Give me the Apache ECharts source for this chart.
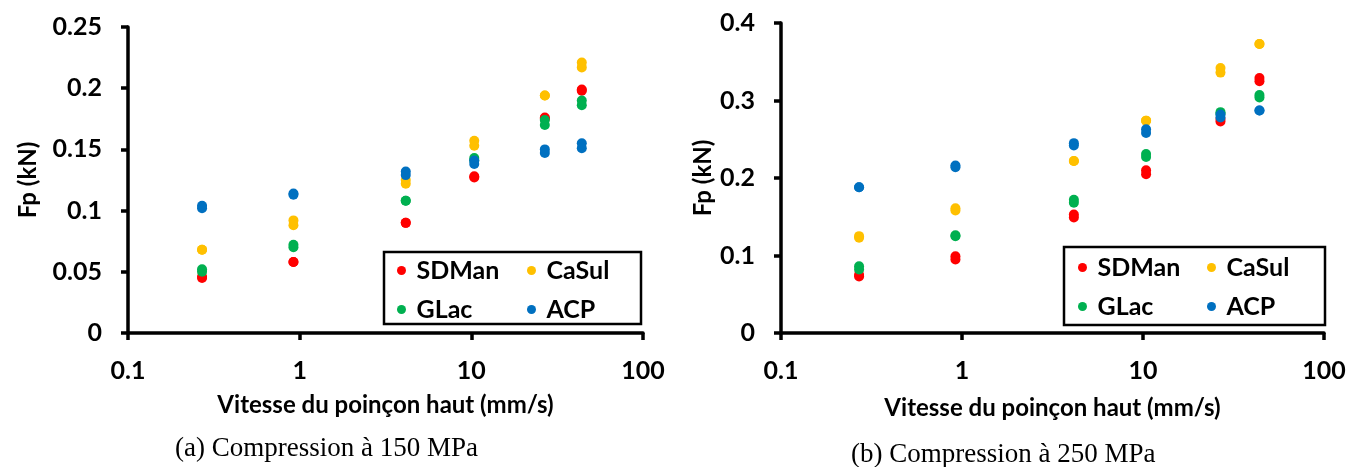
<!DOCTYPE html>
<html>
<head>
<meta charset="utf-8">
<script src="https://cdn.jsdelivr.net/npm/echarts@6/dist/echarts.min.js"></script>
<style>
html,body{margin:0;padding:0;background:#fff;}
#c{width:1349px;height:467px;}
</style>
</head>
<body>
<div id="c"></div>
<script>
// Punch speed (mm/s), shared by both panels
const speeds = [0.27, 0.92, 4.15, 10.4, 26.8, 44];
const seriesNames = ['SDMan', 'CaSul', 'GLac', 'ACP'];
const legendCol1 = ['SDMan', 'GLac'];
const legendCol2 = ['CaSul', 'ACP'];
const xTickLabels = ['0.1', '1', '10', '100'];

// Panel (a) 150 MPa : two readings per speed (kN)
const a_SDMan = [[0.046, 0.045], [0.058, 0.058], [0.090, 0.090], [0.127, 0.128], [0.175, 0.176], [0.198, 0.199]];
const a_CaSul = [[0.068, 0.068], [0.092, 0.088], [0.125, 0.122], [0.157, 0.153], [0.194, 0.194], [0.221, 0.217]];
const a_GLac  = [[0.052, 0.050], [0.072, 0.070], [0.108, 0.108], [0.143, 0.141], [0.174, 0.170], [0.190, 0.186]];
const a_ACP   = [[0.104, 0.102], [0.114, 0.113], [0.132, 0.129], [0.141, 0.138], [0.150, 0.147], [0.155, 0.151]];

// Panel (b) 250 MPa : two readings per speed (kN)
const b_SDMan = [[0.075, 0.073], [0.099, 0.095], [0.153, 0.149], [0.210, 0.205], [0.276, 0.273], [0.329, 0.325]];
const b_CaSul = [[0.125, 0.123], [0.161, 0.158], [0.222, 0.222], [0.274, 0.274], [0.342, 0.336], [0.373, 0.373]];
const b_GLac  = [[0.086, 0.082], [0.126, 0.125], [0.172, 0.168], [0.231, 0.227], [0.285, 0.283], [0.307, 0.304]];
const b_ACP   = [[0.188, 0.188], [0.216, 0.214], [0.245, 0.242], [0.263, 0.258], [0.282, 0.278], [0.287, 0.287]];

const colors = {SDMan: '#FF0000', CaSul: '#FFC000', GLac: '#00B050', ACP: '#0070C0'};
const panelA = {SDMan: a_SDMan, CaSul: a_CaSul, GLac: a_GLac, ACP: a_ACP};
const panelB = {SDMan: b_SDMan, CaSul: b_CaSul, GLac: b_GLac, ACP: b_ACP};

function toPoints(vals) {
  const pts = [];
  vals.forEach((pair, i) => pair.forEach(v => pts.push([speeds[i], v])));
  return pts;
}

const FONT = 'Lato';
const BLACK = '#000';

function xAxisCfg(gridIndex, nameGap) {
  return {
    gridIndex: gridIndex,
    type: 'log', logBase: 10, min: 0.1, max: 100,
    name: 'Vitesse du poinçon haut (mm/s)',
    nameLocation: 'middle', nameGap: nameGap,
    nameTextStyle: {fontFamily: FONT, fontWeight: 'bold', fontSize: 24, color: BLACK},
    axisLine: {show: true, lineStyle: {color: BLACK, width: 3.5}},
    axisTick: {show: true, inside: false, length: 7, lineStyle: {color: BLACK, width: 3.5}},
    minorTick: {show: false},
    splitLine: {show: false},
    axisLabel: {
      margin: 25, fontFamily: FONT, fontWeight: 'bold', fontSize: 25, color: BLACK,
      formatter: function (v) {
        const idx = Math.round(Math.log10(v)) + 1;
        return xTickLabels[idx] !== undefined ? xTickLabels[idx] : String(v);
      }
    }
  };
}

function yAxisCfg(gridIndex, max, interval, nameGap) {
  return {
    gridIndex: gridIndex,
    type: 'value', min: 0, max: max, interval: interval,
    name: 'Fp (kN)',
    nameLocation: 'middle', nameGap: nameGap,
    nameTextStyle: {fontFamily: FONT, fontWeight: 'bold', fontSize: 24, color: BLACK},
    axisLine: {show: true, lineStyle: {color: BLACK, width: 3.5}},
    axisTick: {show: true, inside: false, length: 7, lineStyle: {color: BLACK, width: 3.5}},
    splitLine: {show: false},
    axisLabel: {margin: 26, fontFamily: FONT, fontWeight: 'bold', fontSize: 25, color: BLACK}
  };
}

function legendCfg(names, left, top) {
  return {
    show: true,
    data: names,
    orient: 'vertical',
    left: left, top: top,
    padding: 0,
    itemGap: 14,
    itemWidth: 20, itemHeight: 9,
    icon: 'circle',
    selectedMode: false,
    textStyle: {fontFamily: FONT, fontWeight: 'bold', fontSize: 25, color: BLACK}
  };
}

const series = [];
seriesNames.forEach(n => {
  series.push({
    name: n, type: 'scatter', xAxisIndex: 0, yAxisIndex: 0,
    symbol: 'circle', symbolSize: 10,
    itemStyle: {color: colors[n], opacity: 1},
    data: toPoints(panelA[n])
  });
});
seriesNames.forEach(n => {
  series.push({
    name: n, type: 'scatter', xAxisIndex: 1, yAxisIndex: 1,
    symbol: 'circle', symbolSize: 10,
    itemStyle: {color: colors[n], opacity: 1},
    data: toPoints(panelB[n])
  });
});

const chart = echarts.init(document.getElementById('c'), null, {renderer: 'canvas'});
chart.setOption({
  animation: false,
  backgroundColor: '#fff',
  color: seriesNames.map(n => colors[n]),
  grid: [
    {left: 128, top: 27, width: 515, height: 306, containLabel: false},
    {left: 781, top: 23, width: 543, height: 310, containLabel: false}
  ],
  xAxis: [xAxisCfg(0, 60), xAxisCfg(1, 63)],
  yAxis: [yAxisCfg(0, 0.25, 0.05, 88), yAxisCfg(1, 0.4, 0.1, 66)],
  legend: [
    legendCfg(legendCol1, 397, 258),
    legendCfg(legendCol2, 527, 258),
    legendCfg(legendCol1, 1078, 255),
    legendCfg(legendCol2, 1207, 255)
  ],
  graphic: [
    {type: 'rect', z: 100, shape: {x: 384, y: 252, width: 257, height: 72},
     style: {fill: 'rgba(0,0,0,0)', stroke: BLACK, lineWidth: 2.5}},
    {type: 'rect', z: 100, shape: {x: 1064, y: 247, width: 261, height: 78},
     style: {fill: 'rgba(0,0,0,0)', stroke: BLACK, lineWidth: 2.5}},
    {type: 'text', left: 175, top: 435, style: {text: '(a) Compression à 150 MPa', font: '27px "Liberation Serif"', fill: BLACK}},
    {type: 'text', left: 851, top: 441, style: {text: '(b) Compression à 250 MPa', font: '27px "Liberation Serif"', fill: BLACK}}
  ],
  series: series
});
</script>
</body>
</html>
